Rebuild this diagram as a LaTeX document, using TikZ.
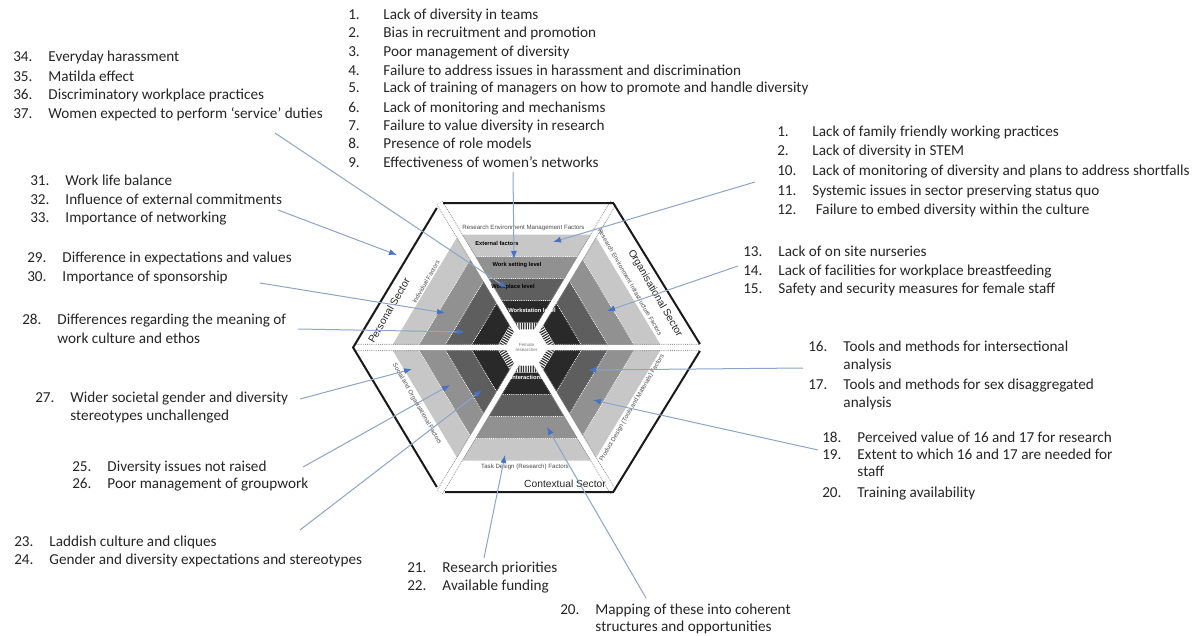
\documentclass[tikz,border=0pt]{standalone}
\usepackage{fontspec}
\setmainfont{Carlito}
\newfontfamily\arialfont{Liberation Sans}
\usetikzlibrary{arrows.meta}
\definecolor{linkblue}{RGB}{140,165,200}
\definecolor{tipblue}{RGB}{70,115,195}
\tikzset{
  item/.style={anchor=base west, inner sep=0pt, text=black!85, font=\fontsize{11.4}{13}\selectfont},
  link/.style={draw=linkblue, line width=0.75pt, -{Latex[length=6pt,width=4.5pt,color=tipblue]}},
  band1/.style={fill=black!22},
  band2/.style={fill=black!43},
  band3/.style={fill=black!63},
  band4/.style={fill=black!84},
  bandline/.style={draw=white, line width=0.6pt, dash pattern=on 0.6pt off 0.8pt},
  hatch/.style={draw=black!80, line width=5pt, dash pattern=on 0.9pt off 0.9pt},
  sepedge/.style={draw=black!45, line width=5.4pt, dash pattern=on 0.6pt off 0.8pt},
  sepgap/.style={draw=white, line width=4pt},
  outline/.style={draw=black!90, line width=1.5pt},
  factor/.style={inner sep=0pt, text=black!70, font=\arialfont\fontsize{4.6}{5}\selectfont},
  sector/.style={inner sep=0pt, text=black!85, font=\arialfont\fontsize{7.7}{9}\selectfont},
  lvl/.style={inner sep=0pt, font=\arialfont\bfseries\fontsize{4.3}{5}\selectfont}
}
\newcommand{\nr}[1]{\makebox[26.4pt][l]{#1}}
\newcommand{\hexpath}[1]{({-0.6*#1},{-#1}) -- ({0.6*#1},{-#1}) -- ({1.2*#1},0) -- ({0.6*#1},{#1}) -- ({-0.6*#1},{#1}) -- ({-1.2*#1},0) -- cycle}
\begin{document}
\begin{tikzpicture}[x=0.75pt, y=-0.75pt]
\useasboundingbox (0,0) rectangle (1198,635);
\fill[white] (0,0) rectangle (1198,635);
% the hexagon
\begin{scope}[shift={(526.5,347.5)}]
\coordinate (ctr) at (0,0);
\coordinate (vtl) at (-86.7,-144.5);
\coordinate (vtr) at (86.7,-144.5);
\coordinate (vr) at (173.4,0);
\coordinate (vbr) at (86.7,144.5);
\coordinate (vbl) at (-86.7,144.5);
\coordinate (vl) at (-173.4,0);
\fill[band1] \hexpath{113};
\fill[band2] \hexpath{91};
\fill[band3] \hexpath{69};
\fill[band4] \hexpath{47};
\draw[bandline] \hexpath{91};
\draw[bandline] \hexpath{69};
\draw[bandline] \hexpath{47};
\fill[white] \hexpath{25};
\draw[hatch] \hexpath{21.5};
\draw[sepedge] (ctr) -- (vtl) (ctr) -- (vtr) (ctr) -- (vr) (ctr) -- (vbr) (ctr) -- (vbl) (ctr) -- (vl);
\draw[sepgap] (ctr) -- (vtl) (ctr) -- (vtr) (ctr) -- (vr) (ctr) -- (vbr) (ctr) -- (vbl) (ctr) -- (vl);
\fill[white] \hexpath{17.5};
\node[inner sep=0pt, align=center, text=black!55, font=\arialfont\fontsize{3.4}{4}\selectfont] (fem) at (ctr) {Female\\researcher};
% sector outlines
\draw[outline] (-83.5,-144.5) -- (vtr) -- (173.4,-3.5);
\draw[outline] (173.4,3.5) -- (vbr) -- (-81.5,144.5);
\draw[outline] (-89.7,-139.5) -- (vl) -- (-89.7,139.5);
% factor labels
\node[factor] (fTop) at (-3,-120) {Research Environment Management Factors};
\node[factor, rotate=-60] (fUR) at (103.5,-65.5) {Research Environment Infrastructure Factors};
\node[factor, rotate=60] (fLR) at (105.5,60.5) {Product Design (Tools and Materials) Factors};
\node[factor] (fBot) at (-1.5,119.5) {Task Design (Research) Factors};
\node[factor, rotate=-60] (fLL) at (-109.5,56.5) {Social and Organisational Factors};
\node[factor, rotate=60] (fUL) at (-100.5,-65.5) {Individual Factors};
\node[sector, rotate=60] (sPers) at (-137.5,-37) {Personal Sector};
\node[sector, rotate=-60] (sOrg) at (128.5,-54) {Organisational Sector};
\node[sector] (sCont) at (38.5,136.5) {Contextual Sector};
% level labels
\node[lvl] (lExt) at (-29.5,-104) {External factors};
\node[lvl] (lSet) at (-9.5,-82) {Work setting level};
\node[lvl] (lPlace) at (-13.5,-60) {Workplace level};
\node[lvl, text=white] (lStat) at (5.5,-37.5) {Workstation level};
\node[lvl, text=white] (lInt) at (0.5,30) {Interactions};
\end{scope}
% lists
\node[item] (n1) at (348,20) {\nr{1.}Lack of diversity in teams};
\node[item] (n2) at (348,38) {\nr{2.}Bias in recruitment and promotion};
\node[item] (n3) at (348,57) {\nr{3.}Poor management of diversity};
\node[item] (n4) at (348,75) {\nr{4.}Failure to address issues in harassment and discrimination};
\node[item] (n5) at (348,93) {\nr{5.}Lack of training of managers on how to promote and handle diversity};
\node[item] (n6) at (348,112) {\nr{6.}Lack of monitoring and mechanisms};
\node[item] (n7) at (348,130) {\nr{7.}Failure to value diversity in research};
\node[item] (n8) at (348,148) {\nr{8.}Presence of role models};
\node[item] (n9) at (348,167) {\nr{9.}Effectiveness of women’s networks};
\node[item] (n34) at (13,62) {\nr{34.}Everyday harassment};
\node[item] (n35) at (13,81) {\nr{35.}Matilda effect};
\node[item] (n36) at (13,99) {\nr{36.}Discriminatory workplace practices};
\node[item] (n37) at (13,118) {\nr{37.}Women expected to perform ‘service’ duties};
\node[item] (n31) at (30,185) {\nr{31.}Work life balance};
\node[item] (n32) at (30,204) {\nr{32.}Influence of external commitments};
\node[item] (n33) at (30,222) {\nr{33.}Importance of networking};
\node[item] (n29) at (27,262) {\nr{29.}Difference in expectations and values};
\node[item] (n30) at (27,281) {\nr{30.}Importance of sponsorship};
\node[item] (n28) at (22,324) {\nr{28.}Differences regarding the meaning of};
\node[item] (n28b) at (22,343) {\nr{}work culture and ethos};
\node[item] (n27) at (35,402) {\nr{27.}Wider societal gender and diversity};
\node[item] (n27b) at (35,420) {\nr{}stereotypes unchallenged};
\node[item] (n25) at (72,471) {\nr{25.}Diversity issues not raised};
\node[item] (n26) at (72,488) {\nr{26.}Poor management of groupwork};
\node[item] (n23) at (14,546) {\nr{23.}Laddish culture and cliques};
\node[item] (n24) at (14,564) {\nr{24.}Gender and diversity expectations and stereotypes};
\node[item] (n21) at (407,572) {\nr{21.}Research priorities};
\node[item] (n22) at (407,590) {\nr{22.}Available funding};
\node[item] (m20) at (560,614) {\nr{20.}Mapping of these into coherent};
\node[item] (m20b) at (560,631) {\nr{}structures and opportunities};
\node[item] (r1) at (777,136) {\nr{1.}Lack of family friendly working practices};
\node[item] (r2) at (777,155) {\nr{2.}Lack of diversity in STEM};
\node[item] (r10) at (777,175) {\nr{10.}Lack of monitoring of diversity and plans to address shortfalls};
\node[item] (r11) at (777,195) {\nr{11.}Systemic issues in sector preserving status quo};
\node[item] (r12) at (777,214) {\nr{12.}\ Failure to embed diversity within the culture};
\node[item] (r13) at (743,256) {\nr{13.}Lack of on site nurseries};
\node[item] (r14) at (743,275) {\nr{14.}Lack of facilities for workplace breastfeeding};
\node[item] (r15) at (743,293) {\nr{15.}Safety and security measures for female staff};
\node[item] (r16) at (808,351) {\nr{16.}Tools and methods for intersectional};
\node[item] (r16b) at (808,369) {\nr{}analysis};
\node[item] (r17) at (808,389) {\nr{17.}Tools and methods for sex disaggregated};
\node[item] (r17b) at (808,407) {\nr{}analysis};
\node[item] (r18) at (822,442) {\nr{18.}Perceived value of 16 and 17 for research};
\node[item] (r19) at (822,459) {\nr{19.}Extent to which 16 and 17 are needed for};
\node[item] (r19b) at (822,476) {\nr{}staff};
\node[item] (r20) at (822,497) {\nr{20.}Training availability};
% arrow ends
\coordinate (s1) at (513,172);   \coordinate (t1) at (514,259);
\coordinate (s2) at (755,182);   \coordinate (t2) at (553,242);
\coordinate (s3) at (738,266);   \coordinate (t3) at (607,311);
\coordinate (s4) at (803,368);   \coordinate (t4) at (588,370);
\coordinate (s5) at (818,450);   \coordinate (t5) at (593,400);
\coordinate (s6) at (646,598);   \coordinate (t6) at (547,427);
\coordinate (s7) at (484,558);   \coordinate (t7) at (505,455);
\coordinate (s8) at (300,530);   \coordinate (t8) at (482,390);
\coordinate (s9) at (303,467);   \coordinate (t9) at (450,385);
\coordinate (s10) at (300,399);  \coordinate (t10) at (412,369);
\coordinate (s11) at (298,329);  \coordinate (t11) at (465,332);
\coordinate (s12) at (260,283);  \coordinate (t12) at (445,313);
\coordinate (s13) at (278,210);  \coordinate (t13) at (397,255);
\coordinate (s14) at (275,133);  \coordinate (t14) at (507,288);
\draw[link] (s1) -- (t1);
\draw[link] (s2) -- (t2);
\draw[link] (s3) -- (t3);
\draw[link] (s4) -- (t4);
\draw[link] (s5) -- (t5);
\draw[link] (s6) -- (t6);
\draw[link] (s7) -- (t7);
\draw[link] (s8) -- (t8);
\draw[link] (s9) -- (t9);
\draw[link] (s10) -- (t10);
\draw[link] (s11) -- (t11);
\draw[link] (s12) -- (t12);
\draw[link] (s13) -- (t13);
\draw[link] (s14) -- (t14);
\end{tikzpicture}
\end{document}
